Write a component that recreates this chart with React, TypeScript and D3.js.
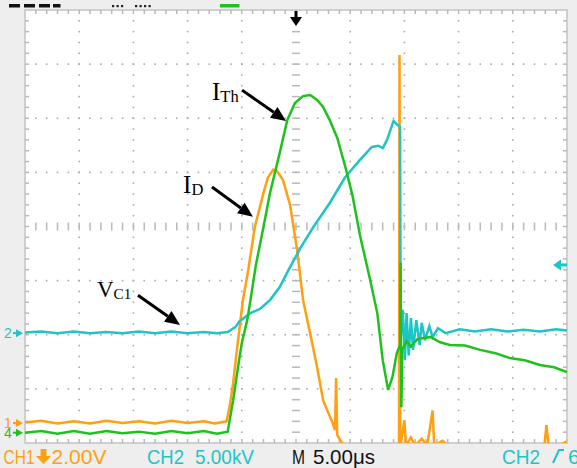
import React from 'react';
import * as d3 from 'd3';

// time in µs (5 µs/div, trigger at centre), level in screen divisions (-4..4)
const idTrace: [number, number][] = [
  [-25, -3.62], [-23.5, -3.59], [-22, -3.64], [-20.5, -3.6], [-19, -3.64], [-17.5, -3.59],
  [-16, -3.63], [-14.5, -3.6], [-13, -3.64], [-11.5, -3.59], [-10, -3.63], [-8.5, -3.6],
  [-7.5, -3.64], [-6.4, -3.6], [-6.1, -3.3], [-5.8, -2.89], [-5.45, -2.28], [-5.2, -1.86],
  [-4.9, -1.36], [-4.4, -0.8], [-3.8, -0.01], [-3.0, 0.62], [-2.6, 0.9], [-2.1, 1.05],
  [-1.7, 1.01], [-1.2, 0.86], [-0.55, 0.4], [0.1, -0.43], [0.65, -1.36], [1.3, -1.97],
  [1.95, -2.6], [2.5, -3.21], [2.95, -3.43], [3.4, -3.64], [3.6, -3.76], [3.7, -2.8],
  [3.8, -3.85], [4.1, -3.95], [4.5, -4.08], [9.5, -4.08], [9.55, 3.17], [9.62, -4.08],
  [10.0, -3.58], [10.15, -4.05], [10.6, -3.9], [11.0, -4.05], [11.6, -3.92], [12.1, -4.05],
  [12.6, -3.4], [12.75, -4.05], [13.5, -3.96], [14.2, -4.08], [22.9, -4.08], [23.1, -3.67],
  [23.3, -4.05], [24.5, -4.02], [25, -3.97],
];

const vc1Trace: [number, number][] = [
  [-25, -1.96], [-23.5, -1.94], [-22, -1.97], [-20.5, -1.94], [-19, -1.97], [-17.5, -1.95],
  [-16, -1.97], [-14.5, -1.94], [-13, -1.97], [-11.5, -1.94], [-10, -1.97], [-8.5, -1.95],
  [-7.3, -1.97], [-6.3, -1.95], [-5.6, -1.86], [-5.2, -1.75], [-4.2, -1.6], [-3.3, -1.52],
  [-2.4, -1.36], [-1.5, -1.12], [-0.6, -0.77], [0.4, -0.4], [1.6, -0.01], [3.1, 0.43],
  [4.5, 0.9], [5.9, 1.23], [7.0, 1.47], [7.6, 1.49], [8.0, 1.45], [8.4, 1.6], [9.0, 1.95],
  [9.3, 1.89], [9.6, 1.84], [9.65, -2.1], [9.85, -1.54], [10.05, -2.47], [10.2, -1.6],
  [10.4, -2.38], [10.6, -1.69], [10.8, -2.28], [11.1, -1.73], [11.4, -2.19], [11.6, -1.78],
  [11.9, -2.1], [12.3, -1.84], [12.6, -2.04], [13.1, -1.88], [13.8, -1.97], [15.1, -1.9],
  [16.5, -1.94], [18, -1.9], [19.5, -1.94], [21, -1.91], [22.5, -1.94], [24, -1.9], [25, -1.92],
];

const ithTrace: [number, number][] = [
  [-25, -3.81], [-23.5, -3.78], [-22, -3.83], [-20.5, -3.78], [-19, -3.83], [-17.5, -3.78],
  [-16, -3.82], [-14.5, -3.79], [-13, -3.83], [-11.5, -3.78], [-10, -3.82], [-8.5, -3.78],
  [-7.3, -3.83], [-6.3, -3.79], [-5.8, -3.21], [-5.35, -2.6], [-5.0, -2.15], [-4.5, -1.73],
  [-4.2, -1.36], [-3.7, -0.71], [-3.0, -0.01], [-2.4, 0.62], [-1.5, 1.36], [-0.8, 1.97],
  [-0.1, 2.28], [0.65, 2.41], [1.3, 2.43], [1.95, 2.34], [2.5, 2.21], [3.1, 1.97],
  [3.8, 1.64], [4.5, 1.14], [5.2, 0.58], [5.9, -0.16], [6.8, -0.95], [7.5, -1.6],
  [8.0, -2.47], [8.5, -3.02], [8.9, -2.78], [9.3, -2.34], [9.6, -2.19], [9.65, -0.67],
  [9.72, -3.34], [9.8, -2.28], [10.2, -2.12], [10.6, -2.22], [11.2, -2.08], [12.4, -2.04],
  [13.3, -2.14], [14.2, -2.19], [15.6, -2.2], [17, -2.28], [18.4, -2.34], [19.7, -2.43],
  [21.1, -2.47], [22.5, -2.56], [23.8, -2.6], [25, -2.69],
];

const ORANGE = '#ff9f12';
const CYAN = '#1fc4c6';
const GREEN = '#1ec21e';

const groundMarkers = [
  { ch: '2', level: -1.97, color: CYAN },
  { ch: '1', level: -3.63, color: ORANGE },
  { ch: '4', level: -3.81, color: GREEN },
];
const triggerLevel = -0.71;

// annotations: text anchor, arrow tail and tip, all in (µs, div)
const annotations = [
  { main: 'I', sub: 'Th', text: [-7.75, 2.34], tail: [-4.98, 2.52], tip: [-0.92, 1.95], size: 25 },
  { main: 'I', sub: 'D', text: [-10.42, 0.62], tail: [-7.75, 0.73], tip: [-3.97, 0.18], size: 25 },
  { main: 'V', sub: 'C1', text: [-18.36, -1.3], tail: [-14.58, -1.27], tip: [-10.7, -1.82], size: 23 },
];

const W = 577;
const H = 468;
const left = 25, right = 567, top = 10, bottom = 443;

export default function App() {
  const x = d3.scaleLinear().domain([-25, 25]).range([left, right]);
  const y = d3.scaleLinear().domain([-4, 4]).range([bottom, top]);
  const line = d3.line<[number, number]>().x(d => x(d[0])).y(d => y(d[1]));

  const minorT = d3.range(-24, 25, 1);
  const minorD = d3.range(-3.8, 3.81, 0.2);
  const majorT = d3.range(-20, 21, 5).filter(t => t !== 0);
  const majorD = d3.range(-3, 4, 1).filter(v => v !== 0);

  const dots: JSX.Element[] = [];
  majorT.forEach(t => minorD.forEach((v, j) =>
    dots.push(<rect key={`v${t}_${j}`} x={x(t) - 0.8} y={y(v) - 0.8} width={1.6} height={1.6} fill="#aaa" />)));
  majorD.forEach(v => minorT.forEach(t =>
    dots.push(<rect key={`h${v}_${t}`} x={x(t) - 0.8} y={y(v) - 0.8} width={1.6} height={1.6} fill="#aaa" />)));

  const tickColor = '#b9b9b9';

  return (
    <svg width={W} height={H} style={{ position: 'absolute', left: 0, top: 0 }}
      fontFamily="'Liberation Sans', Arial, sans-serif">
      <defs>
        <clipPath id="plot">
          <rect x={left} y={top} width={right - left} height={bottom - top} />
        </clipPath>
      </defs>
      <rect width={W} height={H} fill="#eeeeee" />

      {/* status bar remnants at top */}
      {[9, 24, 39, 53].map((px, i) => (
        <rect key={i} x={px} y={4} width={i === 3 ? 7.5 : 11} height={3.5} fill="#111" />
      ))}
      {[112, 116.5, 121, 135, 139.5, 144, 148.5].map((px, i) => (
        <rect key={`d${i}`} x={px} y={5} width={2.2} height={2.2} fill="#222" />
      ))}
      <rect x={220} y={4} width={19.5} height={3.5} fill={GREEN} />

      {/* plot area */}
      <rect x={left} y={top} width={right - left} height={bottom - top} fill="#fff" stroke="#cfcfcf" strokeWidth={2} />
      {dots}
      {/* centre cross */}
      {minorD.map((v, j) => (
        <line key={`cv${j}`} x1={x(0) - 4} x2={x(0) + 4} y1={y(v)} y2={y(v)} stroke={tickColor} strokeWidth={1.5} />
      ))}
      {minorT.map(t => (
        <line key={`ch${t}`} x1={x(t)} x2={x(t)} y1={y(0) - 4} y2={y(0) + 4} stroke={tickColor} strokeWidth={1.5} />
      ))}
      {/* border ticks */}
      {minorT.map(t => (
        <g key={`bt${t}`}>
          <line x1={x(t)} x2={x(t)} y1={top} y2={top + 4} stroke={tickColor} strokeWidth={1.5} />
          <line x1={x(t)} x2={x(t)} y1={bottom - 4} y2={bottom} stroke={tickColor} strokeWidth={1.5} />
        </g>
      ))}
      {minorD.map((v, j) => (
        <g key={`bl${j}`}>
          <line x1={left} x2={left + 4} y1={y(v)} y2={y(v)} stroke={tickColor} strokeWidth={1.5} />
          <line x1={right - 4} x2={right} y1={y(v)} y2={y(v)} stroke={tickColor} strokeWidth={1.5} />
        </g>
      ))}

      {/* traces */}
      <g clipPath="url(#plot)" fill="none" strokeWidth={2.5} strokeLinejoin="miter">
        <path d={line(idTrace) ?? ''} stroke={ORANGE} />
        <path d={line(vc1Trace) ?? ''} stroke={CYAN} />
        <path d={line(ithTrace) ?? ''} stroke={GREEN} />
      </g>

      {/* trigger position */}
      <rect x={x(0) - 1.5} y={11} width={3} height={8} fill="#000" />
      <path d={`M${x(0) - 6},${17}L${x(0) + 6},${17}L${x(0)},${26}Z`} fill="#000" />

      {/* trigger level */}
      <path d={`M${553},${y(triggerLevel)}L${561},${y(triggerLevel) - 5.5}L${561},${y(triggerLevel) + 5.5}Z`} fill={CYAN} />
      <rect x={560} y={y(triggerLevel) - 1.5} width={7} height={3} fill={CYAN} />

      {/* ground markers */}
      {groundMarkers.map(g => (
        <g key={g.ch} fill={g.color}>
          <text x={4} y={y(g.level) + 5} fontSize={14}>{g.ch}</text>
          <path d={`M16,${y(g.level) - 4}L23,${y(g.level)}L16,${y(g.level) + 4}Z`} />
          <rect x={13} y={y(g.level) - 1} width={6} height={2} />
        </g>
      ))}

      {/* annotations */}
      {annotations.map((a, i) => {
        const tx = x(a.tail[0]), ty = y(a.tail[1]);
        const px = x(a.tip[0]), py = y(a.tip[1]);
        const ang = Math.atan2(py - ty, px - tx);
        const hl = 15, hw = 6.5;
        const bx = px - hl * Math.cos(ang), by = py - hl * Math.sin(ang);
        const nx = -Math.sin(ang) * hw, ny = Math.cos(ang) * hw;
        return (
          <g key={i}>
            <text x={x(a.text[0])} y={y(a.text[1])} fontFamily="'Liberation Serif', 'Times New Roman', serif"
              fontSize={a.size} fill="#000">
              {a.main}
              <tspan fontSize={a.size * 0.66} dy={2}>{a.sub}</tspan>
            </text>
            <line x1={tx} y1={ty} x2={bx} y2={by} stroke="#000" strokeWidth={3} />
            <path d={`M${px},${py}L${bx + nx},${by + ny}L${bx - nx},${by - ny}Z`} fill="#000" />
          </g>
        );
      })}

      {/* bottom status line */}
      <g fontSize={21}>
        <text x={3.5} y={464} fill={ORANGE} textLength={31} lengthAdjust="spacingAndGlyphs">CH1</text>
        <path d="M40.5,449h6v7h4.5l-7.5,8l-7.5,-8h4.5z" fill={ORANGE} />
        <text x={51.5} y={464} fill={ORANGE} textLength={55} lengthAdjust="spacingAndGlyphs">2.00V</text>
        <text x={147} y={464} fill={CYAN} textLength={37} lengthAdjust="spacingAndGlyphs">CH2</text>
        <text x={195} y={464} fill={CYAN} textLength={59} lengthAdjust="spacingAndGlyphs">5.00kV</text>
        <text x={292} y={464} fill="#111" textLength={13} lengthAdjust="spacingAndGlyphs">M</text>
        <text x={313} y={464} fill="#111" textLength={62} lengthAdjust="spacingAndGlyphs">5.00μs</text>
        <text x={502} y={464} fill={CYAN} textLength={38} lengthAdjust="spacingAndGlyphs">CH2</text>
        <path d="M553,463L559,450L564,450" stroke={CYAN} strokeWidth={2} fill="none" />
        <text x={568} y={464} fill={CYAN}>6</text>
      </g>
    </svg>
  );
}
